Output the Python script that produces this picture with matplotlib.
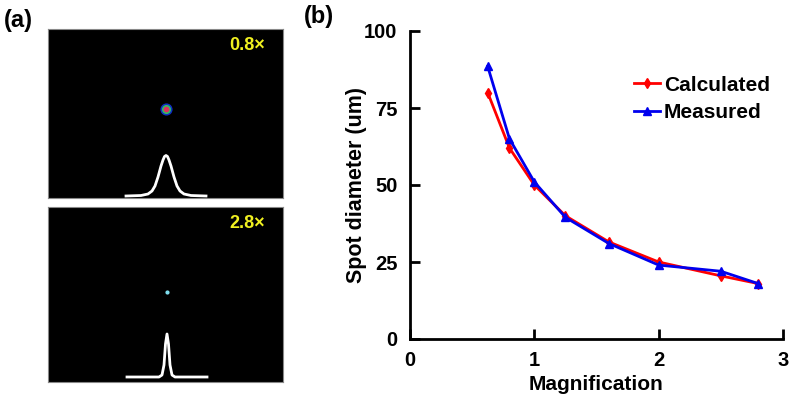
import matplotlib
matplotlib.use("Agg")
import matplotlib.pyplot as plt

# panel (b) data
magnification = [0.625, 0.8, 1.0, 1.25, 1.6, 2.0, 2.5, 2.8]
calculated = [80.0, 62.0, 50.0, 40.0, 31.5, 25.0, 20.5, 18.0]
measured = [88.5, 65.0, 51.0, 39.5, 31.0, 24.0, 22.0, 18.0]

# panel (a) beam profiles (px offsets from peak, px heights above baseline)
prof_x_08 = [-40, -25, -18, -14, -11, -8, -5, -3, -1.5, 0, 1.5, 3, 5, 8, 11, 14, 18, 25, 40]
prof_y_08 = [0, 0.5, 2, 5, 10, 19, 30, 36, 39.5, 40.5, 39.5, 36, 30, 19, 10, 5, 2, 0.5, 0]
prof_x_28 = [-40, -8, -5, -3, -1.5, 0, 1.5, 3, 5, 8, 40]
prof_y_28 = [0, 0, 2, 12, 33, 43, 33, 12, 2, 0, 0]

plt.rcParams.update({
    "font.family": ["Liberation Sans", "DejaVu Sans"],
    "font.weight": "bold",
    "axes.labelweight": "bold",
})

W, H = 796, 401
fig = plt.figure(figsize=(W / 100, H / 100), dpi=100)


def px_axes(x0, y0, x1, y1):
    return fig.add_axes([x0 / W, 1 - y1 / H, (x1 - x0) / W, (y1 - y0) / H])


def beam_panel(box, label, spot, prof_x, prof_y, base_y, peak_x):
    x0, y0, x1, y1 = box
    ax = px_axes(x0, y0, x1, y1)
    ax.set_facecolor("black")
    ax.set_xlim(x0, x1)
    ax.set_ylim(y1, y0)
    ax.set_xticks([])
    ax.set_yticks([])
    for s in ax.spines.values():
        s.set_color("#888888")
        s.set_linewidth(0.8)
    sx, sy = spot
    if label.startswith("0.8"):
        ax.scatter([sx], [sy], s=60, color="#1030c0", zorder=2)
        ax.scatter([sx], [sy], s=30, color="#30c060", zorder=3)
        ax.scatter([sx], [sy], s=10, color="#e03060", zorder=4)
    else:
        ax.scatter([sx], [sy], s=4, color="#80e0f0", zorder=3)
    ax.plot([peak_x + v for v in prof_x], [base_y - v for v in prof_y],
            color="white", lw=2)
    ax.text(x1 - 18, y0 + 17, label, color="#f0f020", fontsize=13,
            fontweight="bold", ha="right", va="center")
    return ax


beam_panel((48, 29, 283, 198), "0.8\u00d7", (166, 109),
           prof_x_08, prof_y_08, 196, 166)
beam_panel((48, 207, 283, 382), "2.8\u00d7", (167, 292),
           prof_x_28, prof_y_28, 377, 167)

fig.text(4 / W, 1 - 21 / H, "(a)", fontsize=17, fontweight="bold", va="center")
fig.text(304 / W, 1 - 17 / H, "(b)", fontsize=17, fontweight="bold", va="center")

# panel (b)
ax = px_axes(410, 31, 783, 339)
ax.plot(magnification, calculated, color="red", lw=2, marker="d",
        markersize=5, label="Calculated", zorder=3)
ax.plot(magnification, measured, color="#0000ee", lw=2, marker="^",
        markersize=6, label="Measured", zorder=4)
ax.set_xlim(0, 3)
ax.set_ylim(0, 100)
ax.set_xticks([0, 1, 2, 3])
ax.set_yticks([0, 25, 50, 75, 100])
for side in ("top", "right"):
    ax.spines[side].set_visible(False)
for side in ("left", "bottom"):
    ax.spines[side].set_linewidth(2)
ax.tick_params(direction="in", length=7, width=2, labelsize=14.5, pad=9)
for lab in ax.get_xticklabels() + ax.get_yticklabels():
    lab.set_fontweight("bold")
ax.set_xlabel("Magnification", fontsize=15, labelpad=3)
ax.set_ylabel("Spot diameter (um)", fontsize=15.5, labelpad=-2)
ax.legend(loc="upper left", bbox_to_anchor=(615 / W, 1 - 57 / H),
          bbox_transform=fig.transFigure, frameon=False, fontsize=15,
          handlelength=1.25, handletextpad=0.2, labelspacing=0.4)

fig.savefig("out.png", dpi=100)
